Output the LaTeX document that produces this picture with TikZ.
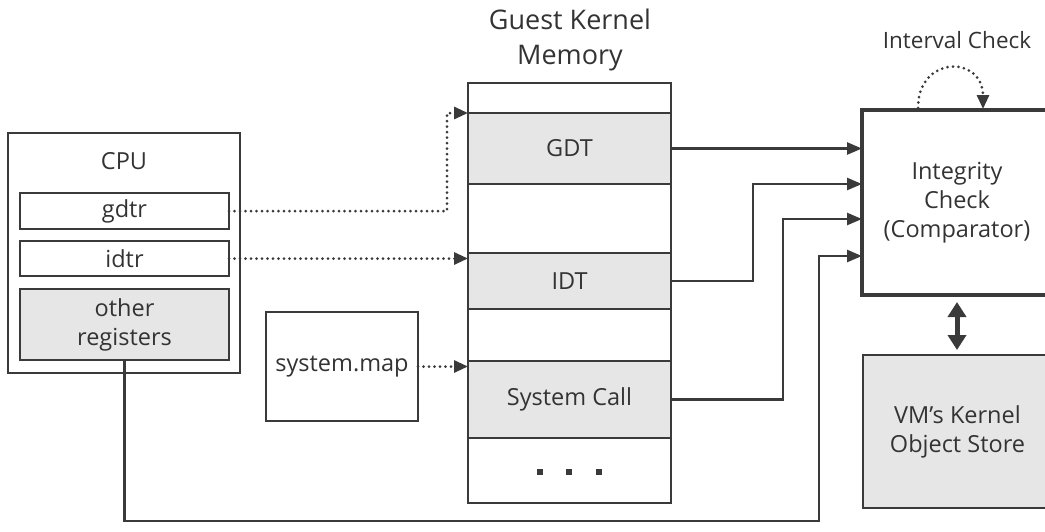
\documentclass[tikz,border=0pt]{standalone}
\usepackage{fontspec}
\setmainfont{Open Sans}
\usetikzlibrary{arrows.meta,calc}
\definecolor{ln}{HTML}{3A3A3A}
\definecolor{gf}{HTML}{E6E6E6}
\definecolor{tx}{HTML}{333333}
\begin{document}
\begin{tikzpicture}[x=1pt,y=-1pt,
 box/.style={draw=ln,line width=1.8pt,inner sep=0pt,outer sep=0pt,anchor=north west},
 txt/.style={text=tx,font=\fontsize{23.5}{29}\selectfont,align=center,inner sep=0pt},
 conn/.style={draw=ln,line width=2.5pt,-{Triangle[length=15pt,width=12pt]}},
 dotc/.style={draw=ln,line width=3pt,dash pattern=on 0pt off 5.5pt,line cap=round,-{Triangle[length=14pt,width=12pt]}}]
\useasboundingbox (0,0) rectangle (1045,531);
\clip (0,0) rectangle (1045,531);
% CPU
\node[box,minimum width=232pt,minimum height=240pt] (cpu) at (8,133) {};
\node[txt] (cputxt) at (124,161) {CPU};
\node[box,txt,minimum width=209pt,minimum height=36pt] (gdtr) at (20,193) {gdtr};
\node[box,txt,minimum width=209pt,minimum height=35pt] (idtr) at (20,241) {idtr};
\node[box,txt,fill=gf,minimum width=209pt,minimum height=71pt] (oreg) at (20,289) {other\\registers};
% system.map
\node[box,txt,minimum width=152pt,minimum height=109pt] (smap) at (266,312) {system.map};
% memory
\node[txt,font=\fontsize{27}{35}\selectfont] (mtitle) at (570,40) {Guest Kernel\\Memory};
\node[box,minimum width=203pt,minimum height=30pt] (mtop) at (468,83) {};
\node[box,txt,fill=gf,minimum width=203pt,minimum height=71pt] (gdt) at (468,113) {GDT};
\node[box,minimum width=203pt,minimum height=69pt] (me1) at (468,184) {};
\node[box,txt,fill=gf,minimum width=203pt,minimum height=56pt] (idt) at (468,253) {IDT};
\node[box,minimum width=203pt,minimum height=52pt] (me2) at (468,309) {};
\node[box,txt,fill=gf,minimum width=203pt,minimum height=77pt] (sysc) at (468,361) {System Call};
\node[box,minimum width=203pt,minimum height=65pt] (mdots) at (468,438) {};
\foreach \i/\x in {1/540,2/569,3/599}
  \node[fill=ln,inner sep=0pt,minimum size=6pt] (d\i) at (\x,472) {};
% integrity
\node[box,txt,line width=4pt,minimum width=190pt,minimum height=185pt] (integ) at (862,110) {Integrity\\Check\\(Comparator)};
\node[txt,font=\fontsize{22.5}{26}\selectfont] (ivl) at (957,40) {Interval Check};
\node[box,txt,fill=gf,minimum width=189pt,minimum height=153pt] (vm) at (863,355) {VM’s Kernel\\Object Store};
% input points
\coordinate (in2) at (862,184);
\coordinate (in3) at (862,219);
\coordinate (in4) at (862,256);
% connectors
\draw[conn] (gdt.east) -- (gdt.east -| integ.west);
\draw[conn] (idt.east) -- ++(82,0) |- (in2);
\draw[conn] (sysc.east) -- ++(112,0) |- (in3);
\draw[conn] (oreg.south) |- (819,521) |- (in4);
\draw[dotc] (gdtr.east) -- (447,211) |- (gdt.north west);
\draw[dotc] (idtr.east) -- (idtr.east -| idt.west);
\draw[dotc] (smap.east) -- (smap.east -| sysc.west);
\draw[dotc] (918,108) .. controls (918,55) and (983,55) .. (983,109);
\draw[draw=ln,line width=5pt,{Triangle[length=15pt,width=18pt]}-{Triangle[length=15pt,width=18pt]},shorten <=7pt,shorten >=5pt] (integ.south) -- (integ.south |- vm.north);
\end{tikzpicture}
\end{document}
